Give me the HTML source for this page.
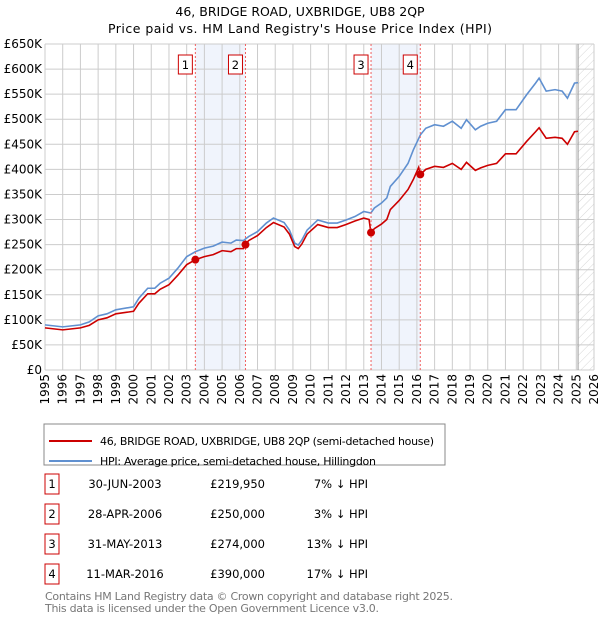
<!DOCTYPE html>
<html><head><meta charset="utf-8"><style>
body{margin:0;background:#fff;font-family:"Liberation Sans","DejaVu Sans",sans-serif;}
svg text{font-family:"DejaVu Sans","Liberation Sans",sans-serif;}
</style></head><body>
<svg id="chart" width="600" height="620">
<text x="300" y="16" text-anchor="middle" font-size="12.5">46, BRIDGE ROAD, UXBRIDGE, UB8 2QP</text>
<text x="300" y="33" text-anchor="middle" font-size="12.5" textLength="384">Price paid vs. HM Land Registry's House Price Index (HPI)</text>
<defs><pattern id="hatch" width="6" height="6" patternUnits="userSpaceOnUse" patternTransform="rotate(45)"><line x1="0" y1="0" x2="0" y2="6" stroke="#ccc" stroke-width="0.8"/></pattern></defs>
<g id="bands"></g><g id="grid"></g><g id="series"></g><g id="marks"></g><g id="axes"></g>
<rect x="44" y="424" width="401" height="41" fill="#fff" stroke="#888"/>
<line x1="49" y1="441" x2="92" y2="441" stroke="#cc0000" stroke-width="2"/>
<text x="100" y="445" font-size="11" textLength="334">46, BRIDGE ROAD, UXBRIDGE, UB8 2QP (semi-detached house)</text>
<line x1="49" y1="461" x2="92" y2="461" stroke="#6090d0" stroke-width="2"/>
<text x="100" y="465" font-size="11" textLength="276">HPI: Average price, semi-detached house, Hillingdon</text>
<g id="table" font-size="11.5"></g>
<text x="45" y="600" font-size="11" fill="#777" textLength="408">Contains HM Land Registry data © Crown copyright and database right 2025.</text>
<text x="45" y="612" font-size="11" fill="#777" textLength="334">This data is licensed under the Open Government Licence v3.0.</text>
</svg>
<script>
const hpiDates=[1995,1996,1996.5,1997,1997.5,1998,1998.5,1999,2000,2000.3,2000.8,2001.2,2001.5,2002,2002.5,2003,2003.5,2004,2004.5,2005,2005.5,2005.8,2006.2,2006.5,2007,2007.5,2007.9,2008.5,2008.8,2009.1,2009.3,2009.5,2009.8,2010.4,2011,2011.5,2012,2012.5,2013,2013.4,2013.6,2014,2014.3,2014.5,2015,2015.5,2015.8,2016.2,2016.5,2017,2017.5,2018,2018.5,2018.8,2019.3,2019.6,2020,2020.5,2021,2021.6,2022.2,2022.7,2022.9,2023.3,2023.8,2024.2,2024.5,2024.9,2025.1];
const hpiValues=[90,86,88,90,96,108,112,120,126,143,163,163,173,183,203,226,236,243,247,255,253,259,258,266,276,293,303,294,279,253,249,259,279,299,293,293,299,306,316,313,323,333,343,366,386,412,439,469,482,489,486,496,482,499,479,486,492,496,519,519,549,572,582,556,559,556,542,572,573];
const propDates=[1995,1996,1996.5,1997,1997.5,1998,1998.5,1999,2000,2000.3,2000.8,2001.2,2001.5,2002,2002.5,2003,2003.5,2004,2004.5,2005,2005.5,2005.8,2006.2,2006.3,2006.5,2007,2007.5,2007.9,2008.5,2008.8,2009.1,2009.3,2009.5,2009.8,2010.4,2011,2011.5,2012,2012.5,2013,2013.3,2013.4,2013.6,2014,2014.3,2014.5,2015,2015.5,2015.8,2016.1,2016.2,2016.5,2017,2017.5,2018,2018.5,2018.8,2019.3,2019.6,2020,2020.5,2021,2021.6,2022.2,2022.7,2022.9,2023.3,2023.8,2024.2,2024.5,2024.9,2025.1];
const propValues=[84,80,82,84,89,100,104,112,117,133,152,152,161,170,189,210,220,226,230,238,236,242,242,250,258,268,284,294,285,271,246,242,251,271,290,284,284,290,297,303,300,274,282,291,300,320,338,360,380,404,390,400,406,404,412,400,414,398,403,408,412,431,431,456,475,483,462,464,462,450,475,476];
const saleLabels=["1","2","3","4"];
const saleDates=[2003.49,2006.32,2013.41,2016.19];
const salePrices=[219950,250000,274000,390000];
const saleDateText=["30-JUN-2003","28-APR-2006","31-MAY-2013","11-MAR-2016"];
const salePriceText=["£219,950","£250,000","£274,000","£390,000"];
const salePctText=["7% ↓ HPI","3% ↓ HPI","13% ↓ HPI","17% ↓ HPI"];
const yTicks=[0,50,100,150,200,250,300,350,400,450,500,550,600,650];
const yTickLabels=["£0","£50K","£100K","£150K","£200K","£250K","£300K","£350K","£400K","£450K","£500K","£550K","£600K","£650K"];
const xTicks=[1995,1996,1997,1998,1999,2000,2001,2002,2003,2004,2005,2006,2007,2008,2009,2010,2011,2012,2013,2014,2015,2016,2017,2018,2019,2020,2021,2022,2023,2024,2025,2026];
const dataEnd=2025.1;

const X0=45,X1=594,Y0=370,Y1=44;
const x=t=>X0+(t-1995)/(2026-1995)*(X1-X0);
const y=v=>Y0-v/650*(Y0-Y1);
const NS="http://www.w3.org/2000/svg";
function mk(tag,parent,attrs){const e=document.createElementNS(NS,tag);for(const k in attrs)e.setAttribute(k,attrs[k]);document.getElementById(parent).appendChild(e);return e;}

for(let i=0;i<4;i+=2){
 const b=mk('rect','bands',{x:x(saleDates[i]),y:Y1,width:x(saleDates[i+1])-x(saleDates[i]),height:Y0-Y1,fill:'#f0f4fc'});
 
 
}
const h=mk('rect','bands',{x:x(dataEnd),y:Y1,width:X1-x(dataEnd),height:Y0-Y1,fill:'url(#hatch)'});


yTicks.forEach((v,i)=>{
 const l=mk('line','grid',{x1:X0,x2:X1,y1:y(v),y2:y(v),stroke:'#ccc'});
 
 
 const t=mk('text','axes',{x:X0-3,y:y(v)+4,'text-anchor':'end','font-size':'12'});
 t.textContent=yTickLabels[i];
 
 
});
xTicks.forEach(v=>{
 const l=mk('line','grid',{x1:x(v),x2:x(v),y1:Y1,y2:Y0,stroke:'#ccc'});
 
 
 const t=mk('text','axes',{x:0,y:0,'text-anchor':'end','font-size':'12',transform:`translate(${x(v)+4},374) rotate(-90)`});
 t.textContent=String(v);
 
 
});
const de=mk('line','grid',{x1:x(dataEnd),x2:x(dataEnd),y1:Y1,y2:Y0,stroke:'#999'});


const hp=mk('polyline','series',{points:hpiDates.map((d,i)=>x(d)+','+y(hpiValues[i])).join(' '),fill:'none',stroke:'#6090d0','stroke-width':1.6});


const pp=mk('polyline','series',{points:propDates.map((d,i)=>x(d)+','+y(propValues[i])).join(' '),fill:'none',stroke:'#cc0000','stroke-width':1.6});


saleDates.forEach((d,i)=>{
 const l=mk('line','marks',{x1:x(d),x2:x(d),y1:Y1,y2:Y0,stroke:'#f06060','stroke-dasharray':'2,2'});
 
 
 const c=mk('circle','marks',{cx:x(d),cy:y(salePrices[i]/1000),r:4,fill:'#cc0000'});
 
 
 const r=mk('rect','marks',{x:x(d)-17,y:55,width:14,height:19,fill:'#fff',stroke:'#cc0000'});
 
 
 const t=mk('text','marks',{x:x(d)-10,y:69,'text-anchor':'middle','font-size':'11.5'});
 t.textContent=saleLabels[i];
 
 
 const ry=474+i*30;
 const br=mk('rect','table',{x:45,y:ry,width:14,height:20,fill:'#fff',stroke:'#cc0000'});
 
 
 const bt=mk('text','table',{x:52,y:ry+14,'text-anchor':'middle'});
 bt.textContent=saleLabels[i];
 
 
 const dt=mk('text','table',{x:125,y:ry+14,'text-anchor':'middle'});
 dt.textContent=saleDateText[i];
 
 
 const pt=mk('text','table',{x:265,y:ry+14,'text-anchor':'end'});
 pt.textContent=salePriceText[i];
 
 
 const ct=mk('text','table',{x:368,y:ry+14,'text-anchor':'end'});
 ct.textContent=salePctText[i];
 
 
});
</script>
</body></html>
